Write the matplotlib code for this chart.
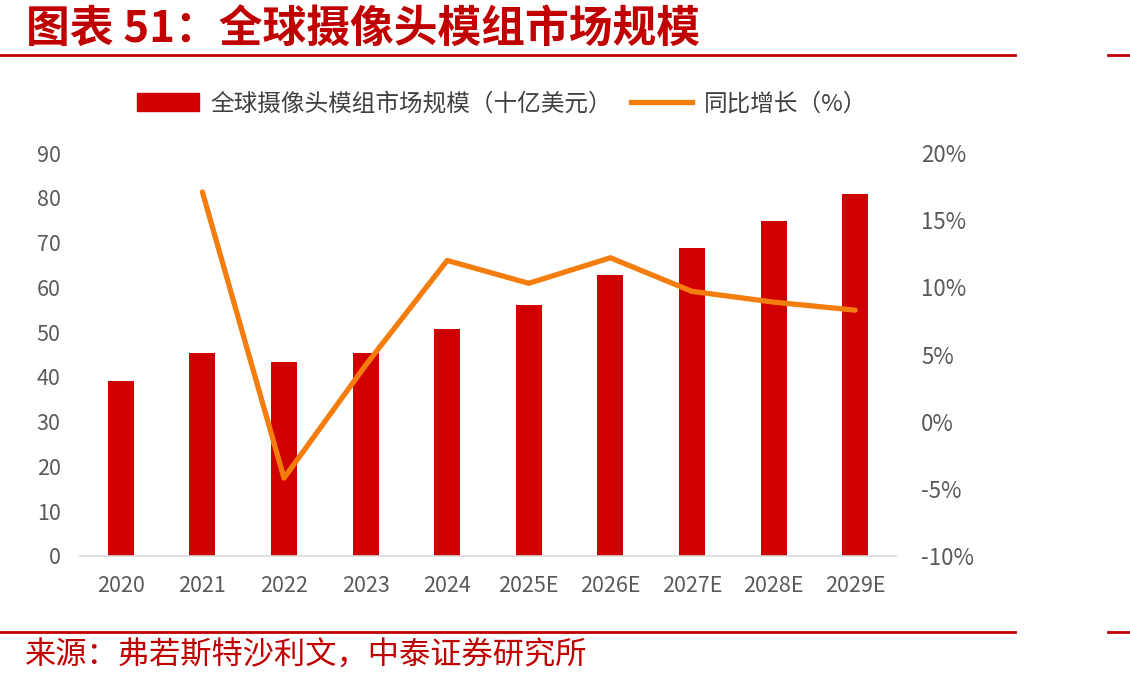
import numpy as np
import matplotlib.pyplot as plt
from matplotlib.lines import Line2D
from matplotlib.patches import Patch

plt.rcParams['font.family'] = ['Noto Sans CJK SC', 'DejaVu Sans']

# datos
years = ['2020', '2021', '2022', '2023', '2024', '2025E', '2026E', '2027E', '2028E', '2029E']
market_size = [39.1, 45.4, 43.3, 45.3, 50.7, 56.0, 62.8, 68.8, 74.8, 80.8]
yoy_growth = [None, 17.1, -4.2, 4.2, 12.0, 10.3, 12.2, 9.7, 8.9, 8.3]

bar_color = '#D00000'
line_color = '#F47D0E'
dark_red = '#C00000'
gray = '#595959'

fig = plt.figure(figsize=(11.3, 6.84), dpi=100)
ax = fig.add_axes([80 / 1130, 1 - 556 / 684, (896 - 80) / 1130, (556 - 153) / 684])

x = np.arange(len(years))
ax.bar(x, market_size, width=0.32, color=bar_color, zorder=2)
ax.set_xlim(-0.5, len(years) - 0.5)
ax.set_ylim(0, 90)
ax.set_yticks(np.arange(0, 91, 10))
ax.set_xticks(x)
ax.set_xticklabels(years)

for s in ['top', 'right', 'left']:
    ax.spines[s].set_visible(False)
ax.spines['bottom'].set_color('#D9D9D9')
ax.spines['bottom'].set_linewidth(1.2)
ax.tick_params(axis='both', length=0, labelsize=15.5, colors=gray)
ax.tick_params(axis='x', pad=14)
ax.tick_params(axis='y', pad=14)

ax2 = ax.twinx()
xs = [i for i, v in enumerate(yoy_growth) if v is not None]
vs = [v for v in yoy_growth if v is not None]
ax2.plot(xs, vs, color=line_color, linewidth=3.8, zorder=3, solid_capstyle='round')
ax2.set_ylim(-10, 20)
ax2.set_yticks(np.arange(-10, 21, 5))
ax2.set_yticklabels([f'{t}%' for t in range(-10, 21, 5)])
for s in ['top', 'right', 'left', 'bottom']:
    ax2.spines[s].set_visible(False)
ax2.tick_params(axis='y', length=0, labelsize=16, colors=gray, pad=18)

# leyenda
handles = [Patch(color=bar_color), Line2D([0], [0], color=line_color, linewidth=3.8)]
labels = ['全球摄像头模组市场规模（十亿美元）', '同比增长（%）']
fig.legend(handles, labels, loc='center left', bbox_to_anchor=(116 / 1130, 1 - 104 / 684),
           ncol=2, frameon=False, fontsize=17, labelcolor='#404040',
           handlelength=2.6, handleheight=0.8, columnspacing=0.8, handletextpad=0.5)

# titulo y lineas rojas
fig.text(26 / 1130, 1 - 30 / 684, '图表 51：全球摄像头模组市场规模', fontsize=31.5,
         fontweight='bold', style='italic', color=dark_red, va='center', ha='left')
for yy in [55, 632]:
    fig.add_artist(Line2D([0, 1015 / 1130], [1 - yy / 684] * 2, color=dark_red, linewidth=2))
    fig.add_artist(Line2D([1108 / 1130, 1], [1 - yy / 684] * 2, color=dark_red, linewidth=2))

fig.text(25 / 1130, 1 - 656 / 684, '来源：弗若斯特沙利文，中泰证券研究所', fontsize=22.5,
         color=dark_red, va='center', ha='left')

fig.savefig('out.png', dpi=100)
